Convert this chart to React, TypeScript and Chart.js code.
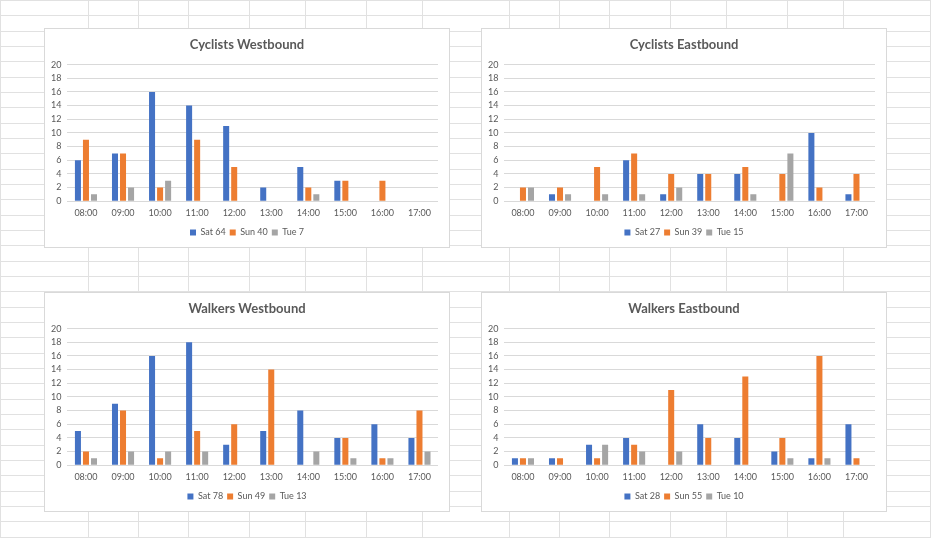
import { useEffect, useRef } from "react"
import { Chart, registerables } from "chart.js"

Chart.register(...registerables)

const hours = ["08:00", "09:00", "10:00", "11:00", "12:00", "13:00", "14:00", "15:00", "16:00", "17:00"]

const cycWestSat = [6, 7, 16, 14, 11, 2, 5, 3, 0, 0]
const cycWestSun = [9, 7, 2, 9, 5, 0, 2, 3, 3, 0]
const cycWestTue = [1, 2, 3, 0, 0, 0, 1, 0, 0, 0]
const cycWestLabels = ["Sat 64", "Sun 40", "Tue 7"]

const cycEastSat = [0, 1, 0, 6, 1, 4, 4, 0, 10, 1]
const cycEastSun = [2, 2, 5, 7, 4, 4, 5, 4, 2, 4]
const cycEastTue = [2, 1, 1, 1, 2, 0, 1, 7, 0, 0]
const cycEastLabels = ["Sat 27", "Sun 39", "Tue 15"]

const walkWestSat = [5, 9, 16, 18, 3, 5, 8, 4, 6, 4]
const walkWestSun = [2, 8, 1, 5, 6, 14, 0, 4, 1, 8]
const walkWestTue = [1, 2, 2, 2, 0, 0, 2, 1, 1, 2]
const walkWestLabels = ["Sat 78", "Sun 49", "Tue 13"]

const walkEastSat = [1, 1, 3, 4, 0, 6, 4, 2, 1, 6]
const walkEastSun = [1, 1, 1, 3, 11, 4, 13, 4, 16, 1]
const walkEastTue = [1, 0, 3, 2, 2, 0, 0, 1, 1, 0]
const walkEastLabels = ["Sat 28", "Sun 55", "Tue 10"]

const seriesColors = ["#4472C4", "#ED7D31", "#A5A5A5"]
const FONT = "Lato, 'Open Sans', sans-serif"
const TEXT = "#595959"

// spreadsheet background
const colLines = [0, 88, 138, 188, 249, 305, 366, 422, 509, 559, 609, 670, 726, 787, 843, 930]
const rowHeight = 15.33

interface BarChartProps {
  title: string
  labels: string[]
  series: number[][]
  left: number
  top: number
}

function BarChart({ title, labels, series, left, top }: BarChartProps) {
  const chartRef = useRef<HTMLCanvasElement>(null)
  const chartInstance = useRef<Chart | null>(null)

  useEffect(() => {
    if (!chartRef.current) return
    if (chartInstance.current) chartInstance.current.destroy()
    const ctx = chartRef.current.getContext("2d")
    if (!ctx) return

    chartInstance.current = new Chart(ctx, {
      type: "bar",
      data: {
        labels: hours,
        datasets: series.map((data, i) => ({
          label: labels[i],
          data,
          backgroundColor: seriesColors[i],
          borderWidth: 0,
          categoryPercentage: 0.65,
          barPercentage: 0.75,
        })),
      },
      options: {
        animation: false,
        responsive: true,
        maintainAspectRatio: false,
        layout: { padding: { left: 0, right: 0, top: 0, bottom: 0 } },
        plugins: {
          title: {
            display: true,
            text: title,
            color: TEXT,
            font: { family: FONT, size: 13, weight: "bold" },
            padding: { top: 8, bottom: 12 },
          },
          legend: {
            position: "bottom",
            labels: {
              boxWidth: 6,
              boxHeight: 6,
              color: TEXT,
              font: { family: FONT, size: 9 },
              padding: 4,
            },
          },
          tooltip: { enabled: false },
        },
        scales: {
          x: {
            grid: { display: false, drawTicks: false },
            border: { display: false },
            ticks: { color: TEXT, font: { family: FONT, size: 9 }, padding: 6, maxRotation: 0, autoSkip: false },
          },
          y: {
            min: 0,
            max: 20,
            ticks: { stepSize: 2, autoSkip: false, color: TEXT, font: { family: FONT, size: 9 }, padding: 6 },
            grid: { color: "#d9d9d9", drawTicks: false },
            border: { display: false },
          },
          // empty right margin so the title and legend stay centred on the whole box
          gap: {
            type: "linear",
            position: "right",
            grid: { display: false, drawTicks: false },
            border: { display: false },
            ticks: { display: false },
            afterFit: (scale: any) => {
              scale.width = 11
            },
          },
        },
      },
    })

    return () => {
      if (chartInstance.current) {
        chartInstance.current.destroy()
        chartInstance.current = null
      }
    }
  }, [title, labels, series])

  return (
    <div
      style={{
        position: "absolute",
        left,
        top,
        width: 406,
        height: 220,
        background: "#fff",
        border: "1px solid #d9d9d9",
        boxSizing: "border-box",
      }}
    >
      <canvas ref={chartRef}></canvas>
    </div>
  )
}

export default function App() {
  const rows = Array.from({ length: 36 }, (_, i) => Math.round(i * rowHeight))
  return (
    <div style={{ position: "fixed", left: 0, top: 0, width: 931, height: 538, background: "#fff", overflow: "hidden" }}>
      {rows.map((y) => (
        <div key={"r" + y} style={{ position: "absolute", left: 0, top: y, width: 931, height: 1, background: "#e1e1e1" }} />
      ))}
      {colLines.map((x) => (
        <div key={"c" + x} style={{ position: "absolute", left: x, top: 0, width: 1, height: 538, background: "#e1e1e1" }} />
      ))}
      <BarChart title="Cyclists Westbound" labels={cycWestLabels} series={[cycWestSat, cycWestSun, cycWestTue]} left={44} top={28} />
      <BarChart title="Cyclists Eastbound" labels={cycEastLabels} series={[cycEastSat, cycEastSun, cycEastTue]} left={481} top={28} />
      <BarChart title="Walkers Westbound" labels={walkWestLabels} series={[walkWestSat, walkWestSun, walkWestTue]} left={44} top={292} />
      <BarChart title="Walkers Eastbound" labels={walkEastLabels} series={[walkEastSat, walkEastSun, walkEastTue]} left={481} top={292} />
    </div>
  )
}
